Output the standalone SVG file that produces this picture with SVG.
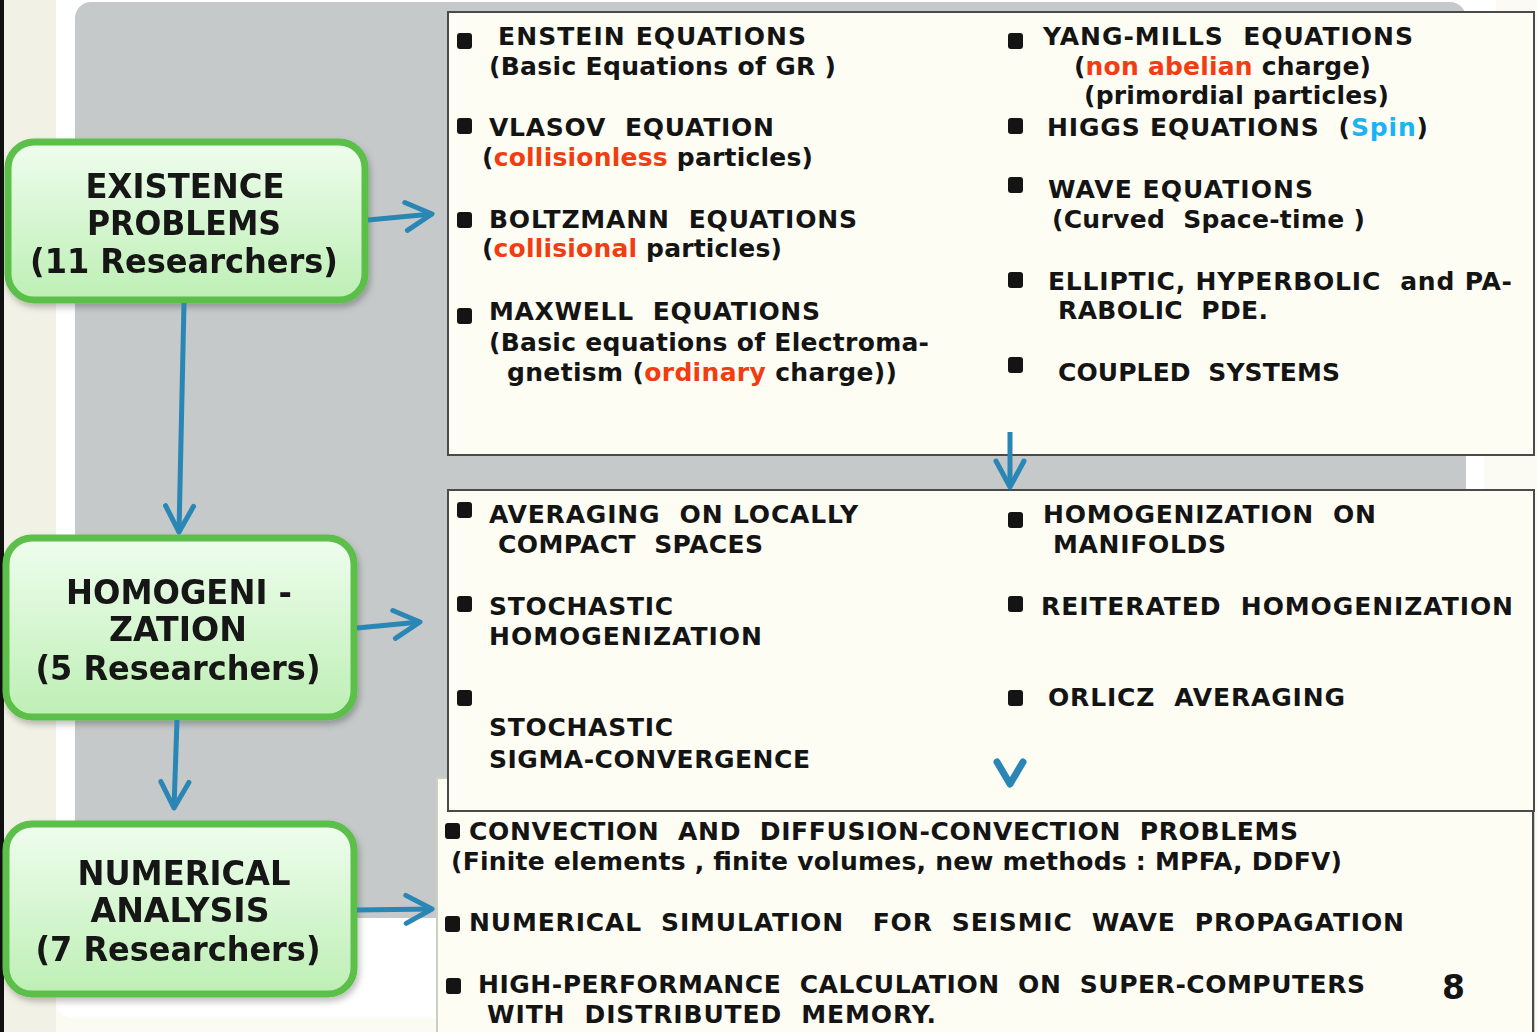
<svg xmlns="http://www.w3.org/2000/svg" width="1537" height="1032" viewBox="0 0 1537 1032">
<style>
.t{font-family:"DejaVu Sans","Verdana",sans-serif;font-weight:bold;font-size:25px;fill:#141414;white-space:pre}
.l{font-family:"DejaVu Sans","Verdana",sans-serif;font-weight:bold;font-size:34px;fill:#141414;text-anchor:middle;white-space:pre}
.r{fill:#f23c12}
.c{fill:#1ab4f5}
.b{fill:#141414}
.node rect.box{fill:url(#gg);stroke:#5cbf4a;stroke-width:7}
.panel{fill:#fdfdf3;stroke:#4a4a4a;stroke-width:2}
.conn line{stroke:#2a86b4;stroke-width:5;marker-end:url(#ah)}
</style>
<defs>
<linearGradient id="gg" x1="0" y1="0" x2="0" y2="1">
<stop offset="0" stop-color="#effdee"/>
<stop offset="1" stop-color="#bdefb4"/>
</linearGradient>
<marker id="ah" viewBox="0 0 36 34" refX="32" refY="17" markerWidth="36" markerHeight="34" markerUnits="userSpaceOnUse" orient="auto">
<path d="M6,3 L32,17 L6,31" fill="none" stroke="#2a86b4" stroke-width="5" stroke-linecap="round" stroke-linejoin="round"/>
</marker>
<filter id="sh" x="-10%" y="-10%" width="120%" height="130%">
<feDropShadow dx="2" dy="4" stdDeviation="3" flood-color="#000" flood-opacity="0.25"/>
</filter>
</defs>

<!-- background -->
<rect x="0" y="0" width="1537" height="1032" fill="#fbfbf3"/>
<rect x="0" y="0" width="56" height="1032" fill="#f1f1e6"/>
<rect x="0" y="0" width="4" height="1032" fill="#111"/>
<rect x="56" y="-20" width="1440" height="1038" rx="16" fill="#ffffff"/>
<rect x="75" y="2" width="1391" height="916" rx="16" fill="#c5c9c9"/>

<!-- third panel (numerical analysis list) -->
<g id="panel-numerical">
<rect x="437" y="778" width="1097" height="262" fill="#fdfdf3" stroke="#c9d1c2" stroke-width="2"/>
<line x1="1533" y1="800" x2="1533" y2="1032" stroke="#4a4a4a" stroke-width="2"/>
<rect x="445" y="823" width="15" height="16" rx="3" class="b"/>
<text class="t" x="469" y="840" textLength="829">CONVECTION  AND  DIFFUSION-CONVECTION  PROBLEMS</text>
<text class="t" x="451" y="870" textLength="891">(Finite elements , finite volumes, new methods : MPFA, DDFV)</text>
<rect x="445" y="916" width="15" height="16" rx="3" class="b"/>
<text class="t" x="469" y="931" textLength="935">NUMERICAL  SIMULATION   FOR  SEISMIC  WAVE  PROPAGATION</text>
<rect x="446" y="978" width="15" height="16" rx="3" class="b"/>
<text class="t" x="478" y="993" textLength="887">HIGH-PERFORMANCE  CALCULATION  ON  SUPER-COMPUTERS</text>
<text class="t" x="487" y="1023" textLength="449">WITH  DISTRIBUTED  MEMORY.</text>
<text class="t" x="1442" y="999" style="font-size:33px">8</text>
</g>

<!-- top panel (existence problems list) -->
<g id="panel-existence">
<rect class="panel" x="448" y="12" width="1086" height="443"/>
<rect x="457" y="33" width="15" height="16" rx="3" class="b"/>
<text class="t" x="498" y="45" textLength="308">ENSTEIN EQUATIONS</text>
<text class="t" x="489" y="75" textLength="347">(Basic Equations of GR )</text>
<rect x="457" y="118" width="15" height="16" rx="3" class="b"/>
<text class="t" x="489" y="136" textLength="285">VLASOV  EQUATION</text>
<text class="t" x="482" y="166" textLength="331">(<tspan class="r">collisionless</tspan> particles)</text>
<rect x="457" y="212" width="15" height="16" rx="3" class="b"/>
<text class="t" x="489" y="228" textLength="368">BOLTZMANN  EQUATIONS</text>
<text class="t" x="482" y="257" textLength="300">(<tspan class="r">collisional</tspan> particles)</text>
<rect x="457" y="308" width="15" height="16" rx="3" class="b"/>
<text class="t" x="489" y="320" textLength="331">MAXWELL  EQUATIONS</text>
<text class="t" x="489" y="351" textLength="440">(Basic equations of Electroma-</text>
<text class="t" x="507" y="381" textLength="390">gnetism (<tspan class="r">ordinary</tspan> charge))</text>

<rect x="1008" y="33" width="15" height="16" rx="3" class="b"/>
<text class="t" x="1043" y="45" textLength="370">YANG-MILLS  EQUATIONS</text>
<text class="t" x="1074" y="75" textLength="297">(<tspan class="r">non abelian</tspan> charge)</text>
<text class="t" x="1084" y="104" textLength="305">(primordial particles)</text>
<rect x="1008" y="118" width="15" height="16" rx="3" class="b"/>
<text class="t" x="1047" y="136" textLength="381">HIGGS EQUATIONS  (<tspan class="c">Spin</tspan>)</text>
<rect x="1008" y="177" width="15" height="16" rx="3" class="b"/>
<text class="t" x="1048" y="198" textLength="265">WAVE EQUATIONS</text>
<text class="t" x="1052" y="228" textLength="313">(Curved  Space-time )</text>
<rect x="1008" y="272" width="15" height="16" rx="3" class="b"/>
<text class="t" x="1048" y="290" textLength="464">ELLIPTIC, HYPERBOLIC  and PA-</text>
<text class="t" x="1058" y="319" textLength="210">RABOLIC  PDE.</text>
<rect x="1008" y="357" width="15" height="16" rx="3" class="b"/>
<text class="t" x="1058" y="381" textLength="282">COUPLED  SYSTEMS</text>
</g>

<!-- gap strip right -->
<rect x="1466" y="456" width="18" height="33" fill="#ffffff"/>
<rect x="1484" y="456" width="52" height="33" fill="#fbfbf3"/>

<!-- middle panel (homogenization list) -->
<g id="panel-homogenization">
<rect class="panel" x="448" y="490" width="1086" height="321"/>
<rect x="457" y="502" width="15" height="16" rx="3" class="b"/>
<text class="t" x="489" y="523" textLength="369">AVERAGING  ON LOCALLY</text>
<text class="t" x="498" y="553" textLength="265">COMPACT  SPACES</text>
<rect x="457" y="596" width="15" height="16" rx="3" class="b"/>
<text class="t" x="489" y="615" textLength="184">STOCHASTIC</text>
<text class="t" x="489" y="645" textLength="273">HOMOGENIZATION</text>
<rect x="457" y="690" width="15" height="16" rx="3" class="b"/>
<text class="t" x="489" y="736" textLength="184">STOCHASTIC</text>
<text class="t" x="489" y="768" textLength="321">SIGMA-CONVERGENCE</text>

<rect x="1008" y="512" width="15" height="16" rx="3" class="b"/>
<text class="t" x="1043" y="523" textLength="333">HOMOGENIZATION  ON</text>
<text class="t" x="1053" y="553" textLength="173">MANIFOLDS</text>
<rect x="1008" y="596" width="15" height="16" rx="3" class="b"/>
<text class="t" x="1041" y="615" textLength="472">REITERATED  HOMOGENIZATION</text>
<rect x="1008" y="690" width="15" height="16" rx="3" class="b"/>
<text class="t" x="1048" y="706" textLength="297">ORLICZ  AVERAGING</text>
</g>

<!-- left nodes -->
<g id="node-existence" class="node" filter="url(#sh)">
<rect class="box" x="8" y="142" width="357" height="158" rx="26"/>
<text class="l" x="185" y="198" textLength="199" lengthAdjust="spacingAndGlyphs">EXISTENCE</text>
<text class="l" x="184" y="235" textLength="194" lengthAdjust="spacingAndGlyphs">PROBLEMS</text>
<text class="l" x="184" y="273" textLength="308" lengthAdjust="spacingAndGlyphs">(11 Researchers)</text>
</g>
<g id="node-homogenization" class="node" filter="url(#sh)">
<rect class="box" x="6" y="538" width="348" height="179" rx="26"/>
<text class="l" x="179" y="604" textLength="226" lengthAdjust="spacingAndGlyphs">HOMOGENI -</text>
<text class="l" x="178" y="641" textLength="138" lengthAdjust="spacingAndGlyphs">ZATION</text>
<text class="l" x="178" y="680" textLength="285" lengthAdjust="spacingAndGlyphs">(5 Researchers)</text>
</g>
<g id="node-numerical" class="node" filter="url(#sh)">
<rect class="box" x="6" y="824" width="348" height="170" rx="26"/>
<text class="l" x="184" y="885" textLength="213" lengthAdjust="spacingAndGlyphs">NUMERICAL</text>
<text class="l" x="180" y="922" textLength="179" lengthAdjust="spacingAndGlyphs">ANALYSIS</text>
<text class="l" x="178" y="961" textLength="285" lengthAdjust="spacingAndGlyphs">(7 Researchers)</text>
</g>

<!-- connectors -->
<g id="connectors" class="conn">
<line x1="368" y1="220" x2="432" y2="214"/>
<line x1="184" y1="303" x2="179" y2="532"/>
<line x1="357" y1="628" x2="420" y2="622"/>
<line x1="177" y1="720" x2="174" y2="808"/>
<line x1="357" y1="910" x2="432" y2="909"/>
<line x1="1010" y1="432" x2="1010" y2="487"/>
<path d="M997,762 L1010,784 L1023,762" fill="none" stroke="#2a86b4" stroke-width="7" stroke-linejoin="round" stroke-linecap="round"/>
</g>
</svg>
